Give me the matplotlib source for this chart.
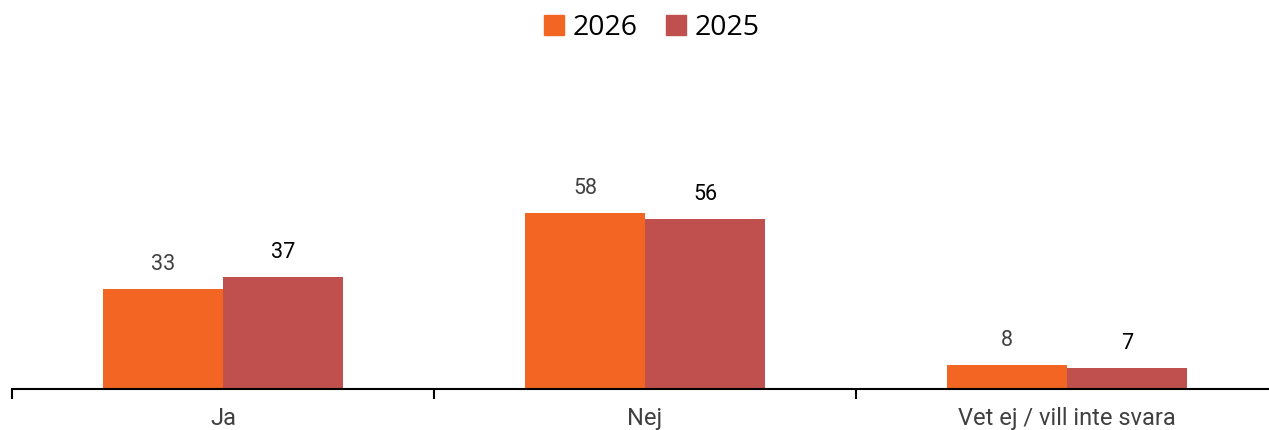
import matplotlib
matplotlib.use("Agg")
import matplotlib.pyplot as plt
import numpy as np
from matplotlib.patches import Patch

categories = ["Ja", "Nej", "Vet ej / vill inte svara"]
series_names = ["2026", "2025"]
values_2026 = [33, 58, 8]
values_2025 = [37, 56, 7]
colors = ["#F26522", "#C0504D"]
label_colors = ["#404040", "#000000"]

fig = plt.figure(figsize=(12.69, 4.30), dpi=100)
ax = fig.add_axes([12/1269, 1 - 389/430, 3*422/1269, (389 - 50)/430])

x = np.arange(len(categories))
bw = 120/422
for i, (vals, c, lc) in enumerate(zip([values_2026, values_2025], colors, label_colors)):
    pos = x + (i - 0.5) * bw
    bars = ax.bar(pos, vals, width=bw, color=c, linewidth=0)
    for b, v in zip(bars, vals):
        ax.annotate(str(v), (b.get_x() + b.get_width()/2, v), xytext=(0, 10),
                    textcoords="offset points", ha="center", va="bottom",
                    fontsize=15.5, color=lc, family=["Roboto", "DejaVu Sans"])

ax.set_xlim(-0.5, len(categories) - 0.5)
ax.set_ylim(0, 339/3.03)
ax.set_xticks(x)
ax.set_xticklabels(categories, fontsize=17, color="#404040", family=["Roboto", "DejaVu Sans"])
ax.tick_params(axis="x", length=0, pad=13)
ax.set_xticks(np.arange(len(categories) + 1) - 0.5, minor=True)
ax.tick_params(axis="x", which="minor", length=7, width=1.5, color="black")
ax.set_yticks([])
for s in ["top", "right", "left"]:
    ax.spines[s].set_visible(False)
ax.spines["bottom"].set_linewidth(1.5)

handles = [Patch(color=c, label=n) for c, n in zip(colors, series_names)]
fig.legend(handles=handles, loc="center", bbox_to_anchor=(652/1269, 1 - 28/430), ncol=2,
           frameon=False, prop={"family": ["Open Sans", "DejaVu Sans"], "size": 20.5},
           handlelength=0.7, handleheight=0.7, handletextpad=0.3, columnspacing=1.0)

fig.savefig("out.png", dpi=100)
